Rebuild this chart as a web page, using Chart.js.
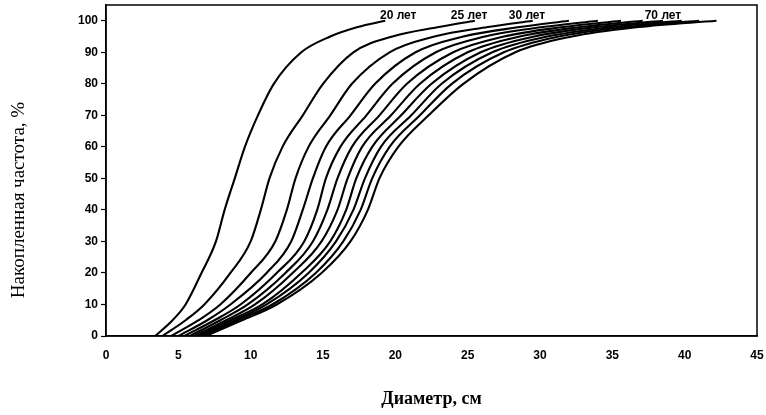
<!DOCTYPE html>
<html>
<head>
<meta charset="utf-8">
<script src="https://cdn.jsdelivr.net/npm/chart.js@4/dist/chart.umd.min.js"></script>
<style>
  html, body { margin: 0; padding: 0; background: #fff; }
  #wrap { width: 766px; height: 415px; }
</style>
</head>
<body>
<div id="wrap"><canvas id="c" width="766" height="415"></canvas></div>
<script>
// Cumulative frequency levels, %
const cumPercent = [0, 5, 10, 20, 30, 40, 50, 60, 70, 80, 90, 95, 98, 100];

// Diameter (cm) reached at each cumulative level, one array per stand age
const age20 = [3.4, 4.6, 5.5, 6.6, 7.6, 8.2, 8.9, 9.6, 10.5, 11.6, 13.5, 15.5, 17.4, 19.3];
const age25 = [3.9, 5.5, 6.8, 8.6, 10.0, 10.7, 11.3, 12.2, 13.6, 15.0, 17.1, 19.8, 23.0, 25.5];
const age30 = [4.5, 6.4, 7.9, 10.0, 11.7, 12.5, 13.1, 14.0, 15.5, 17.0, 19.6, 22.7, 26.4, 29.5];
const age35 = [5.0, 7.0, 8.6, 11.1, 12.8, 13.6, 14.3, 15.2, 16.9, 18.6, 21.4, 24.7, 28.6, 32.0];
const age40 = [5.4, 7.5, 9.3, 11.8, 13.7, 14.6, 15.2, 16.2, 18.0, 19.8, 22.8, 26.2, 30.2, 34.0];
const age45 = [5.8, 7.9, 9.8, 12.4, 14.3, 15.3, 16.0, 17.0, 18.9, 20.8, 24.0, 27.5, 31.6, 35.6];
const age50 = [6.1, 8.3, 10.3, 12.9, 14.9, 16.0, 16.7, 17.7, 19.7, 21.7, 25.0, 28.6, 32.8, 37.1];
const age55 = [6.3, 8.6, 10.8, 13.5, 15.5, 16.6, 17.3, 18.4, 20.4, 22.5, 25.9, 29.6, 33.9, 38.5];
const age60 = [6.5, 8.9, 11.1, 14.0, 15.9, 17.1, 17.9, 19.0, 21.1, 23.2, 26.7, 30.5, 34.9, 39.8];
const age65 = [6.7, 9.1, 11.5, 14.5, 16.4, 17.6, 18.4, 19.6, 21.7, 23.9, 27.5, 31.3, 35.9, 41.0];
const age70 = [6.9, 9.4, 11.8, 14.9, 16.9, 18.1, 18.9, 20.2, 22.3, 24.7, 28.3, 32.2, 36.8, 42.2];

const ageNames = ['20 лет', '25 лет', '30 лет', '35 лет', '40 лет', '45 лет', '50 лет', '55 лет', '60 лет', '65 лет', '70 лет'];
const ageSeries = [age20, age25, age30, age35, age40, age45, age50, age55, age60, age65, age70];

// Curve captions and the data point each one sits at
const captionText = ['20 лет', '25 лет', '30 лет', '70 лет'];
const captionDiam = [20.2, 25.1, 29.1, 38.5];
const captionPct = [101.6, 101.6, 101.6, 101.6];

// Axis ticks and titles
const xTicks = [0, 5, 10, 15, 20, 25, 30, 35, 40, 45];
const yTicks = [0, 10, 20, 30, 40, 50, 60, 70, 80, 90, 100];
const xTitle = 'Диаметр, см';
const yTitle = 'Накопленная частота, %';

const datasets = ageSeries.map((arr, i) => ({
  label: ageNames[i],
  data: arr.map((d, k) => ({ x: d, y: cumPercent[k] })),
  borderColor: '#000',
  borderWidth: 2.1,
  pointRadius: 0,
  fill: false,
  cubicInterpolationMode: 'monotone'
}));

// Plot frame, curve captions and the rotated y-axis title
const frameAndCaptions = {
  id: 'frameAndCaptions',
  afterDatasetsDraw(chart) {
    const { ctx, chartArea: a, scales } = chart;
    ctx.save();
    ctx.strokeStyle = '#000';
    ctx.lineWidth = 1.5;
    ctx.strokeRect(a.left, a.top, a.right - a.left, a.bottom - a.top);
    ctx.fillStyle = '#000';
    ctx.font = 'bold 12px "Liberation Sans", Arial, sans-serif';
    ctx.textAlign = 'center';
    ctx.textBaseline = 'middle';
    captionText.forEach((t, i) => {
      ctx.fillText(t, scales.x.getPixelForValue(captionDiam[i]), scales.y.getPixelForValue(captionPct[i]));
    });
    ctx.translate(19, 200);
    ctx.rotate(-Math.PI / 2);
    ctx.font = '19px "Liberation Serif", "Times New Roman", serif';
    ctx.fillText(yTitle, 0, 0);
    ctx.restore();
  }
};

new Chart(document.getElementById('c'), {
  type: 'line',
  data: { datasets },
  plugins: [frameAndCaptions],
  options: {
    responsive: false,
    animation: false,
    events: [],
    layout: { padding: { top: 5, right: 9, left: 0, bottom: 0 } },
    plugins: { legend: { display: false }, tooltip: { enabled: false } },
    scales: {
      x: {
        type: 'linear',
        min: 0, max: 45,
        afterBuildTicks(s) { s.ticks = xTicks.map(v => ({ value: v })); },
        afterFit(s) { s.height = 79; s.paddingLeft = 0; s.paddingRight = 0; },
        grid: { display: true, drawOnChartArea: false, drawTicks: false, color: '#000' },
        border: { display: true, color: '#000', width: 1.5 },
        ticks: {
          padding: 12,
          color: '#000',
          maxRotation: 0,
          font: { family: '"Liberation Sans", Arial, sans-serif', size: 12, weight: 'bold' }
        },
        title: {
          display: true,
          text: xTitle,
          color: '#000',
          padding: { bottom: 5, top: 0 },
          font: { family: '"Liberation Serif", "Times New Roman", serif', size: 18, weight: 'bold' }
        }
      },
      y: {
        type: 'linear',
        min: 0, max: 105,
        afterBuildTicks(s) { s.ticks = yTicks.map(v => ({ value: v })); },
        afterFit(s) { s.width = 106; s.paddingTop = 0; s.paddingBottom = 0; },
        grid: { display: true, drawOnChartArea: false, drawTicks: true, tickLength: 5, color: '#000', tickWidth: 1.2 },
        border: { display: true, color: '#000', width: 1.5 },
        ticks: {
          padding: 3,
          color: '#000',
          font: { family: '"Liberation Sans", Arial, sans-serif', size: 12, weight: 'bold' }
        }
      }
    }
  }
});
</script>
</body>
</html>
